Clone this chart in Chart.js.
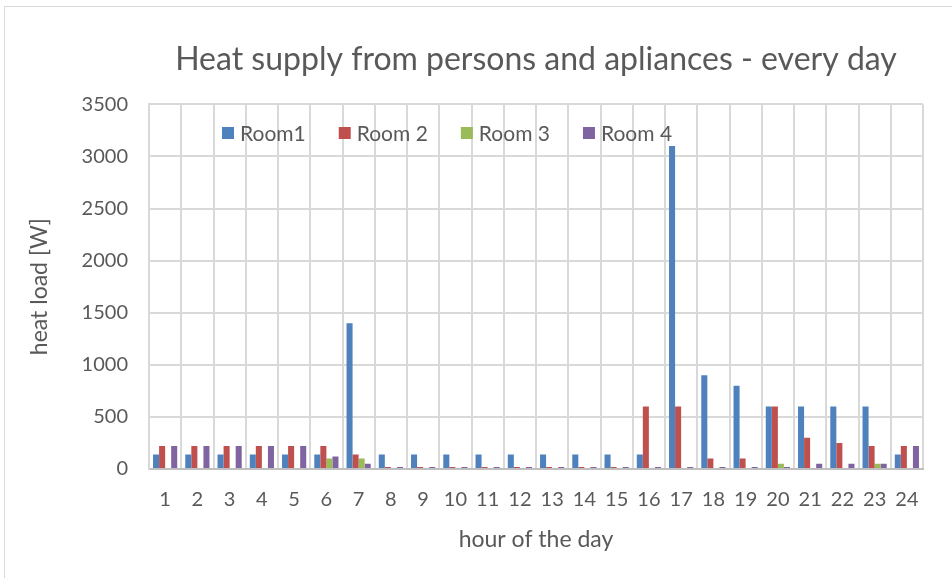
<!DOCTYPE html>
<html lang="en">
	<head>
		<meta charset="UTF-8" />
		<title>Heat supply</title>
		<script src="https://cdn.jsdelivr.net/npm/chart.js"></script>
		<style>
			html,
			body {
				margin: 0;
				padding: 0;
				background: #ffffff;
			}
			#wrap {
				position: relative;
				width: 952px;
				height: 578px;
			}
			#frame {
				position: absolute;
				left: 4px;
				top: 6px;
				right: -2px;
				bottom: -2px;
				border: 1px solid #d9d9d9;
			}
		</style>
	</head>
	<body>
		<div id="wrap">
			<div id="frame"></div>
			<canvas id="myChart" width="952" height="578"></canvas>
		</div>

		<script>
			var hours = ["1","2","3","4","5","6","7","8","9","10","11","12","13","14","15","16","17","18","19","20","21","22","23","24"];
			var room1 = [140,140,140,140,140,140,1400,140,140,140,140,140,140,140,140,140,3100,900,800,600,600,600,600,140];
			var room2 = [220,220,220,220,220,220,140,20,20,20,20,20,20,20,20,600,600,100,100,600,300,250,220,220];
			var room3 = [0,0,0,0,0,100,100,0,0,0,0,0,0,0,0,0,0,0,0,50,0,0,50,0];
			var room4 = [220,220,220,220,220,120,50,20,20,20,20,20,20,20,20,20,20,20,20,20,50,50,50,220];
			var yTicks = [0,500,1000,1500,2000,2500,3000,3500];

			var textColor = "#595959";
			var gridColor = "#d9d9d9";
			var fontFamily = "Lato, 'Open Sans', sans-serif";

			// legend drawn inside the plot area, like the original
			var innerLegend = {
				id: "innerLegend",
				afterDraw: function (chart) {
					var c = chart.ctx;
					var x = 222;
					var y = 133;
					c.save();
					c.font = "21px " + fontFamily;
					c.textBaseline = "middle";
					chart.data.datasets.forEach(function (ds) {
						c.fillStyle = ds.backgroundColor;
						c.fillRect(x, y - 6, 12, 12);
						c.fillStyle = textColor;
						c.fillText(ds.label, x + 18, y + 1);
						x += 18 + c.measureText(ds.label).width + 33;
					});
					c.restore();
				},
			};

			var ctx = document.getElementById("myChart").getContext("2d");
			var myChart = new Chart(ctx, {
				type: "bar",
				plugins: [innerLegend],
				data: {
					labels: hours,
					datasets: [
						{ label: "Room1", data: room1, backgroundColor: "#4f81bd" },
						{ label: "Room 2", data: room2, backgroundColor: "#c0504d" },
						{ label: "Room 3", data: room3, backgroundColor: "#9bbb59" },
						{ label: "Room 4", data: room4, backgroundColor: "#8064a2" },
					],
				},
				options: {
					responsive: false,
					animation: false,
					categoryPercentage: 0.75,
					barPercentage: 1.0,
					layout: {
						padding: { left: 8, right: 29, top: 0, bottom: 20 },
					},
					scales: {
						x: {
							grid: { color: gridColor, lineWidth: 2, drawTicks: false },
							border: { color: "#bfbfbf", width: 2 },
							ticks: {
								color: textColor,
								font: { family: fontFamily, size: 20 },
								padding: 19,
								maxRotation: 0,
							},
							title: {
								display: true,
								text: "hour of the day",
								color: textColor,
								font: { family: fontFamily, size: 23 },
								padding: { top: 0, bottom: 5 },
							},
							afterFit: function (scale) {
								scale.height = 89;
							},
						},
						y: {
							min: 0,
							max: 3500,
							grid: { color: gridColor, lineWidth: 2, drawTicks: false },
							border: { color: gridColor, width: 2 },
							afterBuildTicks: function (scale) {
								scale.ticks = yTicks.map(function (v) {
									return { value: v };
								});
							},
							ticks: {
								color: textColor,
								font: { family: fontFamily, size: 20 },
								padding: 21,
								callback: function (value) {
									return String(value);
								},
							},
							title: {
								display: true,
								text: "heat load [W]",
								color: textColor,
								font: { family: fontFamily, size: 23 },
								padding: { top: 18, bottom: 0 },
							},
							afterFit: function (scale) {
								scale.width = 141;
							},
						},
					},
					plugins: {
						legend: { display: false },
						tooltip: { enabled: false },
						title: {
							display: true,
							fullSize: false,
							text: "Heat supply from persons and apliances - every day",
							color: textColor,
							font: { family: fontFamily, size: 32, weight: "normal" },
							padding: { top: 40, bottom: 26 },
						},
					},
				},
			});
		</script>
	</body>
</html>
